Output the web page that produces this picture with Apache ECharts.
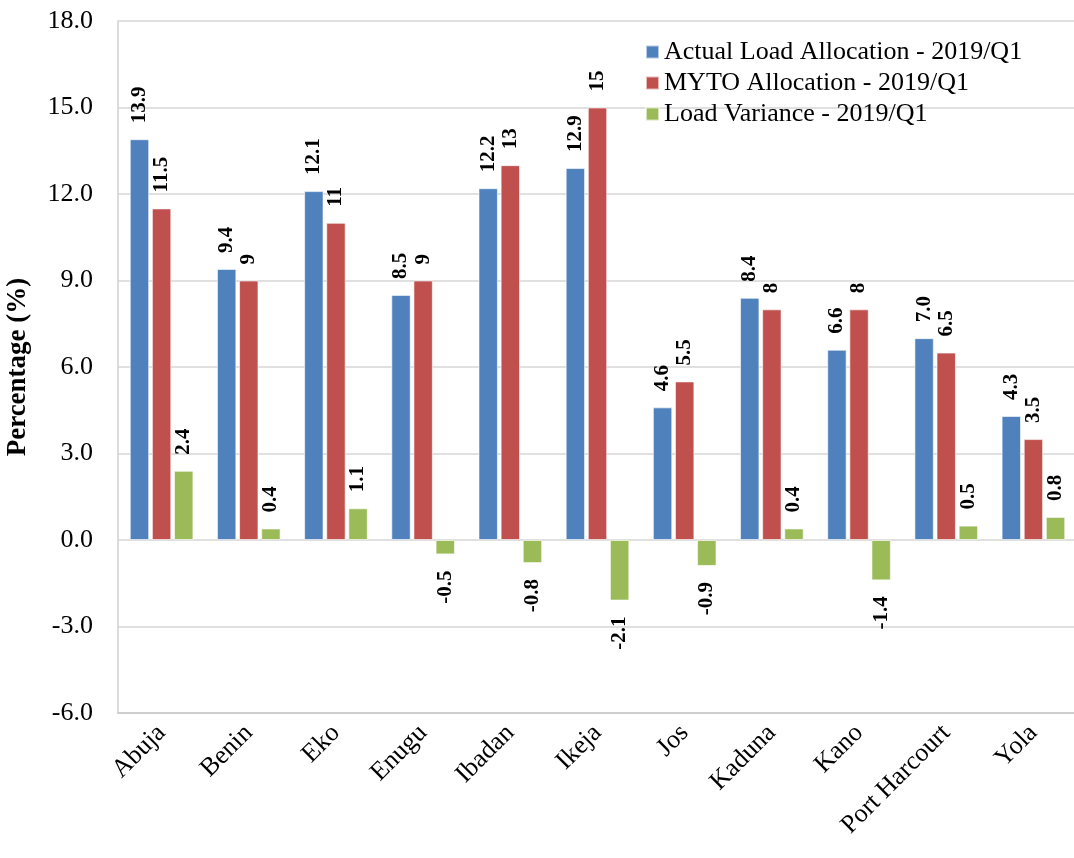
<!DOCTYPE html>
<html>
<head>
<meta charset="utf-8">
<script src="https://cdn.jsdelivr.net/npm/echarts@6/dist/echarts.min.js"></script>
<style>
  html, body { margin: 0; padding: 0; background: #fff; }
  #chart { width: 1074px; height: 858px; }
</style>
</head>
<body>
<div id="chart"></div>
<script>
// values
let categories = ['Abuja', 'Benin', 'Eko', 'Enugu', 'Ibadan', 'Ikeja', 'Jos', 'Kaduna', 'Kano', 'Port Harcourt', 'Yola']
let actualLoad = [13.9, 9.4, 12.1, 8.5, 12.2, 12.9, 4.6, 8.4, 6.6, 7.0, 4.3]
let mytoAlloc = [11.5, 9, 11, 9, 13, 15, 5.5, 8, 8, 6.5, 3.5]
let loadVariance = [2.4, 0.4, 1.1, -0.5, -0.8, -2.1, -0.9, 0.4, -1.4, 0.5, 0.8]
let yTicks = {min: -6, max: 18, interval: 3}

let serif = '"Liberation Serif", "DejaVu Serif", serif'

/**
 * Точки серии: подпись над столбцом для положительных,
 * под столбцом для отрицательных
 */
function toPoints(values, fmt) {
    return values.map((v) => {
        let neg = v < 0
        return {
            value: v,
            label: {
                position: neg ? 'bottom' : 'top',
                align: neg ? 'right' : 'left',
                formatter: () => fmt(v),
            }
        }
    })
}

function barSeries(name, color, values, fmt) {
    return {
        name: name,
        type: 'bar',
        barGap: '14%',
        barCategoryGap: '27%',
        itemStyle: {color: color, borderColor: 'rgba(255,255,255,0.6)', borderWidth: 1},
        label: {
            show: true,
            rotate: 90,
            distance: 16,
            verticalAlign: 'middle',
            fontFamily: serif,
            fontWeight: 'bold',
            fontSize: 21,
            color: '#000',
        },
        data: toPoints(values, fmt),
    }
}

let oneDecimal = (v) => v.toFixed(1)
let plain = (v) => '' + v

let chartInst = echarts.init(document.getElementById('chart'))
chartInst.setOption({
    animation: false,
    textStyle: {fontFamily: serif},
    legend: {
        orient: 'vertical',
        left: 640,
        top: 34,
        itemWidth: 13,
        itemHeight: 13,
        itemGap: 5,
        icon: 'rect',
        textStyle: {fontFamily: serif, fontSize: 26, color: '#000'},
    },
    grid: {left: 118, right: -3, top: 21, bottom: 145, containLabel: false, outerBoundsMode: 'none'},
    xAxis: {
        type: 'category',
        data: categories,
        axisLine: {onZero: false, lineStyle: {color: '#c8c8c8', width: 1.5}},
        axisTick: {show: false},
        axisLabel: {
            rotate: 45,
            interval: 0,
            margin: 16,
            fontFamily: serif,
            fontSize: 26,
            color: '#000',
        },
    },
    yAxis: {
        type: 'value',
        min: yTicks.min,
        max: yTicks.max,
        interval: yTicks.interval,
        name: 'Percentage (%)',
        nameLocation: 'middle',
        nameGap: 86,
        nameTextStyle: {fontFamily: serif, fontSize: 27, fontWeight: 'bold', color: '#000'},
        axisLine: {show: true, lineStyle: {color: '#d0d0d0', width: 1.5}},
        axisTick: {show: false},
        splitLine: {lineStyle: {color: '#d6d6d6', width: 1.5}},
        axisLabel: {
            margin: 25,
            fontFamily: serif,
            fontSize: 26,
            color: '#000',
            formatter: (v) => v.toFixed(1),
        },
    },
    series: [
        barSeries('Actual Load Allocation - 2019/Q1', '#4f81bd', actualLoad, oneDecimal),
        barSeries('MYTO Allocation - 2019/Q1', '#c0504d', mytoAlloc, plain),
        barSeries('Load Variance - 2019/Q1', '#9bbb59', loadVariance, oneDecimal),
    ],
})
</script>
</body>
</html>
